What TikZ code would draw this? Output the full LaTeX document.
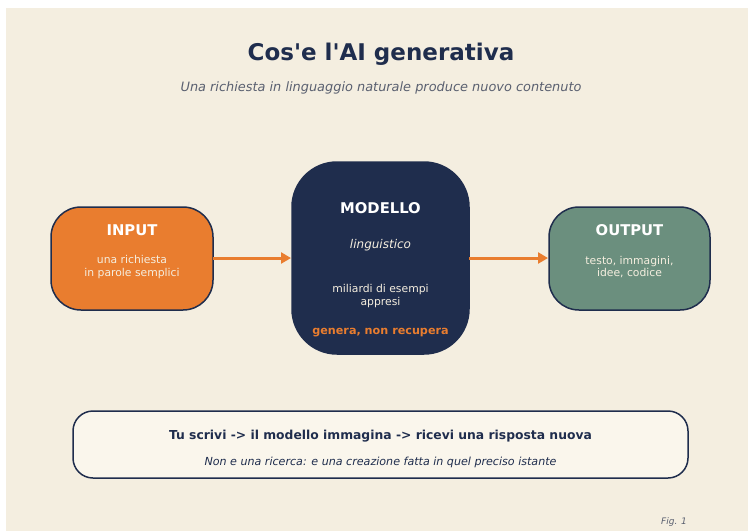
\documentclass[tikz,border=0pt]{standalone}
\usepackage{fontspec}
\setmainfont{DejaVu Sans}[Ligatures=TeXOff]
\usetikzlibrary{arrows.meta}
\definecolor{bg}{HTML}{F4EEE0}
\definecolor{navy}{HTML}{1F2D4D}
\definecolor{orng}{HTML}{E97D2F}
\definecolor{sage}{HTML}{6B8F7E}
\definecolor{cream}{HTML}{F5EEDF}
\definecolor{note}{HTML}{FAF6EC}
\definecolor{subg}{HTML}{5A6070}
\begin{document}
\begin{tikzpicture}[x=1pt,y=-1pt,
  box/.style={draw=navy,line width=1.5pt},
  flow/.style={draw=orng,line width=3pt,-{Triangle[length=10pt,width=11pt]}},
  head/.style={text=white,font=\bfseries\fontsize{14.8}{17}\selectfont},
  small/.style={text=cream,font=\fontsize{10.8}{12.3}\selectfont,align=center}]
\useasboundingbox (0,0) rectangle (748,531);
\fill[white] (0,0) rectangle (748,531);
\fill[bg] (6,8) rectangle (748,531);
\node[text=navy,font=\bfseries\fontsize{23}{27}\selectfont] (title) at (381,54) {Cos'e l'AI generativa};
\node[text=subg,font=\itshape\fontsize{12.9}{15}\selectfont] (sub) at (381,88) {Una richiesta in linguaggio naturale produce nuovo contenuto};
% boxes
\draw[box,fill=orng,rounded corners=30pt] (51,207) rectangle (213,310);
\coordinate (inR) at (213,258);
\node[head] (inT) at (132,230) {INPUT};
\node[small] (inS) at (132,267) {una richiesta\\in parole semplici};
\draw[box,fill=navy,draw=navy,rounded corners=45pt] (292,162) rectangle (469,354);
\coordinate (mL) at (291,258);
\coordinate (mR) at (469,258);
\node[head] (mT) at (380.5,208) {MODELLO};
\node[text=cream,font=\itshape\fontsize{12}{14}\selectfont] (mI) at (380.5,245) {linguistico};
\node[small] (mS) at (380.5,296) {miliardi di esempi\\appresi};
\node[text=orng,font=\bfseries\fontsize{11.2}{13}\selectfont] (mG) at (380.5,333) {genera, non recupera};
\draw[box,fill=sage,rounded corners=30pt] (549,207) rectangle (710,310);
\coordinate (oL) at (548,258);
\node[head] (oT) at (629.5,230) {OUTPUT};
\node[small] (oS) at (629.5,267) {testo, immagini,\\idee, codice};
\draw[flow] (inR) -- (mL);
\draw[flow] (mR) -- (oL);
% note
\draw[box,fill=note,rounded corners=20pt] (73,411) rectangle (688,478);
\node[text=navy,font=\bfseries\fontsize{12.35}{14}\selectfont] (n1) at (380.5,436) {Tu scrivi -> il modello immagina -> ricevi una risposta nuova};
\node[text=navy,font=\itshape\fontsize{11.1}{13}\selectfont] (n2) at (380.5,462) {Non e una ricerca: e una creazione fatta in quel preciso istante};
\node[text=subg,font=\itshape\fontsize{9}{11}\selectfont] (fig) at (674,522) {Fig. 1};
\end{tikzpicture}
\end{document}
